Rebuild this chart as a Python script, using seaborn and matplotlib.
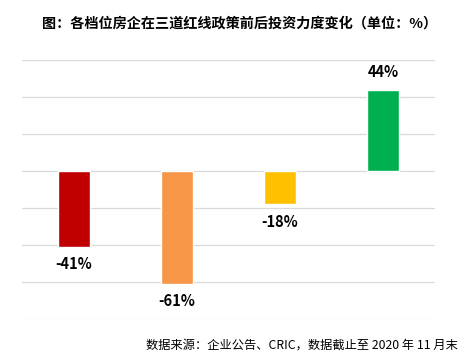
import numpy as np
import pandas as pd
import seaborn as sns
import matplotlib.pyplot as plt

categories = ['档位一', '档位二', '档位三', '档位四']
values = [-41, -61, -18, 44]
colors = ['#C00000', '#F79646', '#FFC000', '#00B050']
title = '图：各档位房企在三道红线政策前后投资力度变化（单位：%）'
source = '数据来源：企业公告、CRIC，数据截止至 2020 年 11 月末'

sns.set_theme(style='white')
plt.rcParams['font.family'] = ['Noto Sans CJK SC', 'DejaVu Sans']

df = pd.DataFrame({'cat': categories, 'val': values})

fig = plt.figure(figsize=(4.68, 3.57), dpi=100)
ax = fig.add_axes([22 / 468, 38 / 357, 413 / 468, 259 / 357])
sns.barplot(data=df, x='cat', y='val', hue='cat', palette=colors,
            width=0.31, legend=False, saturation=1, ax=ax)

ax.set_ylim(-80, 60)
ax.set_xlim(-0.5, 3.5)
ax.set_yticks(np.arange(-80, 61, 20))
ax.yaxis.grid(True, color='#D9D9D9', lw=0.9)
ax.set_axisbelow(True)
for s in ax.spines.values():
    s.set_visible(False)
ax.set_xticks([])
ax.tick_params(axis='y', labelleft=False, length=0)
ax.set_xlabel('')
ax.set_ylabel('')

for i, v in enumerate(values):
    if v >= 0:
        ax.text(i, v + 5, f'{v}%', ha='center', va='bottom',
                fontsize=10.5, fontweight='bold', color='black')
    else:
        ax.text(i, v - 5, f'{v}%', ha='center', va='top',
                fontsize=10.5, fontweight='bold', color='black')

fig.text(240 / 468, 1 - 24 / 357, title, ha='center', va='center',
         fontsize=10.2, fontweight='bold', color='black')
fig.text(458 / 468, 1 - 345 / 357, source, ha='right', va='center',
         fontsize=8.8, color='black')

fig.savefig('out.png', dpi=100)
